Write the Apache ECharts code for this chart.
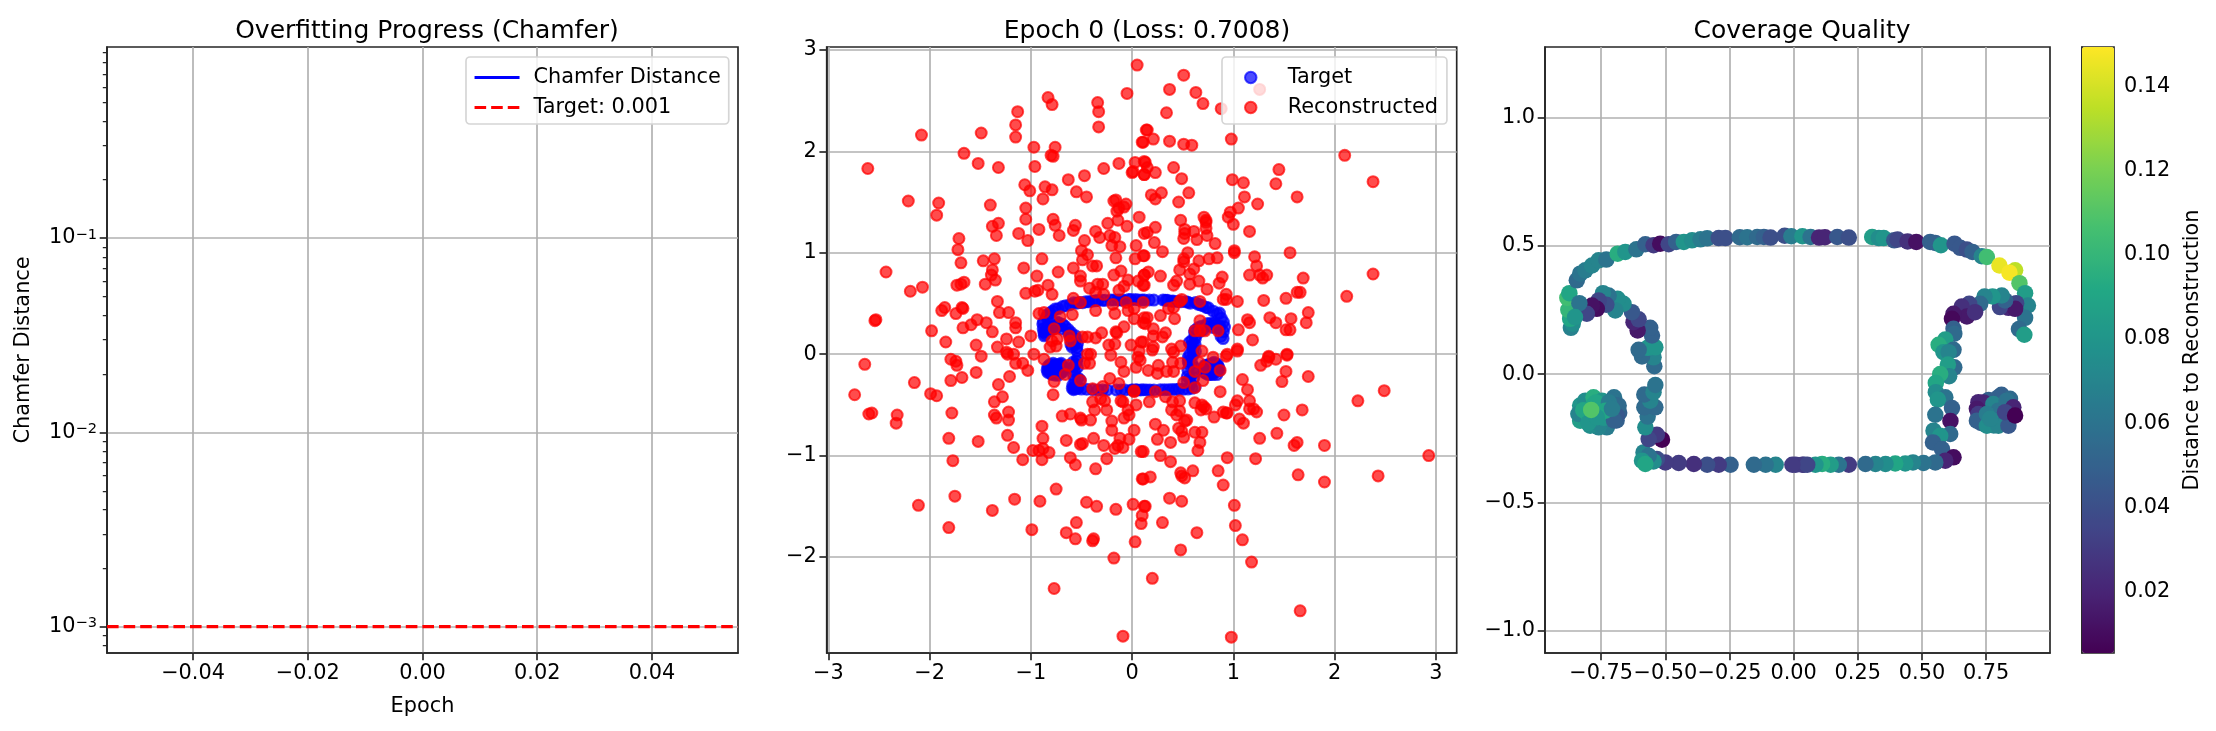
<!DOCTYPE html>
<html>
<head>
<meta charset="utf-8">
<style>html,body{margin:0;padding:0;background:#fff}#c{width:2216px;height:731px}</style>
<script src="https://cdn.jsdelivr.net/npm/echarts@6/dist/echarts.min.js"></script>
</head>
<body>
<div id="c"></div>
<script>
// ---- data ----
const lossTicksY = [0.001, 0.01, 0.1];
const lossMinorY = [0.0008,0.0009,0.002,0.003,0.004,0.005,0.006,0.007,0.008,0.009,0.02,0.03,0.04,0.05,0.06,0.07,0.08,0.09,0.2,0.3,0.4,0.5,0.6,0.7,0.8,0.9];
const lossTicksX = [-0.04,-0.02,0,0.02,0.04];
const chamferValues = [];
const targetLine = [[-0.055,0.001],[0.055,0.001]];
const midTicks = [-3,-2,-1,0,1,2,3];
const midTicksY = [-2,-1,0,1,2,3];
const covTicksX = [-0.75,-0.5,-0.25,0,0.25,0.5,0.75];
const covTicksY = [-1,-0.5,0,0.5,1];
const cbTicks = [0.02,0.04,0.06,0.08,0.1,0.12,0.14];
const viridis = ['#440154','#482475','#414487','#355f8d','#2a788e','#21918c','#22a884','#44bf70','#7ad151','#bddf26','#fde725'];

// red points, upper-left
const reconA = [[0.05,2.85],[-0.05,2.57],[-0.83,2.53],[-0.79,2.46],[-0.34,2.48],[-0.33,2.39],[-0.33,2.24],[-1.13,2.39],[-1.15,2.26],[-1.15,2.14],[-2.08,2.16],[-1.49,2.18],[0.14,2.21],[0.10,2.09],[-0.97,2.04],[-0.76,2.04],[-0.80,1.96],[-0.78,1.95],[-1.66,1.98],[-1.52,1.88],[-1.32,1.84],[-2.61,1.83],[-0.96,1.85],[-0.28,1.83],[-0.13,1.88],[0.03,1.89],[0.12,1.90],[0,1.79],[0.01,1.80],[0.12,1.77],[-0.47,1.76],[-0.63,1.72],[-1.06,1.67],[-1.01,1.61],[-0.86,1.65],[-0.79,1.62],[-0.55,1.60],[-0.45,1.55],[-0.88,1.53],[-2.21,1.51],[-1.91,1.49],[-1.93,1.37],[-1.40,1.47],[-1.05,1.44],[-1.05,1.33],[-0.16,1.52],[-0.18,1.51],[-0.06,1.48],[-0.13,1.44],[-0.15,1.41],[-0.08,1.45],[0.07,1.35],[-0.14,1.32],[-0.24,1.29],[-0.05,1.26],[-0.78,1.33],[-0.76,1.27],[-0.56,1.27],[-0.58,1.22],[-1.32,1.29],[-1.38,1.26],[-1.34,1.17],[-0.92,1.23],[-1.12,1.19],[-1.03,1.12],[-0.72,1.17],[-0.36,1.21],[-0.32,1.15],[-0.47,1.12],[-0.22,1.17],[-0.17,1.15],[-0.20,1.07],[-0.12,1.06],[0.04,1.07],[0.12,1.19],[-1.71,1.14],[-1.72,1.03],[-0.50,1.02],[-0.44,0.98],[-0.49,0.93],[-0.16,0.95],[0.03,0.94],[0.11,0.97],[-0.89,0.94],[-1.47,0.92],[-1.36,0.94],[-1.69,0.90],[-0.39,0.87],[-0.35,0.87],[-0.58,0.85],[-1.07,0.85],[-0.73,0.81],[-2.43,0.81],[-1.38,0.83],[-1.39,0.78],[-1.35,0.73],[-1.45,0.69],[-0.94,0.77],[-0.11,0.82],[-0.18,0.78],[-0.51,0.77],[-0.51,0.72],[-1.66,0.71],[-1.69,0.69],[-1.73,0.68],[-2.07,0.66],[-2.19,0.62],[-0.83,0.68],[-0.93,0.63],[-0.96,0.62],[-1.05,0.60],[-0.79,0.59],[-0.58,0.55],[-0.42,0.65],[-0.36,0.61],[-0.34,0.69],[-0.29,0.69],[-0.28,0.59],[-0.13,0.63],[-0.08,0.67],[-0.04,0.73],[0.06,0.72],[0.12,0.78],[0.11,0.68],[-1.33,0.52],[-1.85,0.46],[-1.88,0.43],[-1.68,0.46],[-1.67,0.45],[-1.74,0.40],[-2.53,0.34],[-2.54,0.33],[-1.31,0.41],[-1.22,0.41],[-0.92,0.40],[-0.87,0.41],[-1.15,0.31],[-1.15,0.26],[-1.44,0.31],[-1.53,0.34],[-1.59,0.29],[-1.67,0.26],[-1.38,0.22],[-1.98,0.23],[-1.84,0.12],[-1.54,0.09],[-1.33,0.07],[-1.24,0.15],[-1.12,0.12],[-1.0,0.18],[-0.97,0],[-1.24,0.02],[-1.17,0],[-0.71,0.37],[-0.59,0.39],[-0.51,0.51],[-0.36,0.43],[-0.19,0.49],[-0.17,0.40],[-0.06,0.51],[-0.04,0.43],[-0.08,0.27],[-0.16,0.22],[-0.15,0.21],[-0.30,0.21],[-0.36,0.16],[-0.44,0.17],[-0.49,0.17],[-0.77,0.25],[-0.62,0.18],[-0.61,0.13],[-0.74,0.15],[-0.79,0.13],[-0.81,0.07],[-0.75,0.08],[-0.23,0.09],[-0.17,0.10],[-0.01,0.09],[0.09,0.12],[0.07,0.03],[0.02,0.35],[0.11,0.31],[0.02,0.45],[0.12,0.36],[-0.41,0],[-0.44,0]];
// red points, upper-right
const reconB = [[0.51,2.75],[0.37,2.61],[0.63,2.58],[0.70,2.47],[0.88,2.42],[0.34,2.38],[1.26,2.61],[0.15,2.21],[0.21,2.12],[0.11,2.09],[0.37,2.10],[0.51,2.07],[0.59,2.06],[0.98,2.12],[2.10,1.96],[2.38,1.70],[1.45,1.82],[1.42,1.68],[0.99,1.72],[1.10,1.69],[1.63,1.55],[0.13,1.89],[0.15,1.84],[0.12,1.77],[0.23,1.79],[0.41,1.84],[0.49,1.73],[0.29,1.59],[0.19,1.57],[0.23,1.53],[0.56,1.59],[0.46,1.50],[1.11,1.55],[1.24,1.48],[1.05,1.44],[0.97,1.40],[0.95,1.35],[1.0,1.28],[1.16,1.21],[0.48,1.32],[0.71,1.35],[0.73,1.32],[0.73,1.30],[0.23,1.25],[0.15,1.20],[0.52,1.23],[0.52,1.19],[0.51,1.14],[0.61,1.21],[0.64,1.13],[0.74,1.17],[0.73,1.24],[0.82,1.09],[0.22,1.10],[0.30,1.01],[0.12,0.97],[0.55,1.0],[1.01,1.02],[1.01,1.0],[1.56,1.0],[1.21,0.96],[0.84,0.95],[0.76,0.94],[0.66,0.92],[0.51,0.94],[0.51,0.91],[1.23,0.87],[0.47,0.83],[0.61,0.84],[1.16,0.78],[1.26,0.78],[1.29,0.75],[1.33,0.78],[1.69,0.75],[2.38,0.79],[2.12,0.57],[0.28,0.77],[0.16,0.81],[0.12,0.78],[0.57,0.79],[0.44,0.72],[0.41,0.68],[0.57,0.69],[0.66,0.72],[0.89,0.76],[0.86,0.70],[0.74,0.64],[0.93,0.59],[0.90,0.54],[0.93,0.54],[1.04,0.52],[1.30,0.53],[1.52,0.55],[1.63,0.61],[1.66,0.61],[0.12,0.68],[0.47,0.52],[0.49,0.54],[0.67,0.52],[0.36,0.45],[0.41,0.46],[0.11,0.51],[1.74,0.41],[1.36,0.36],[1.14,0.34],[1.16,0.31],[1.42,0.31],[1.57,0.35],[1.72,0.31],[1.52,0.24],[1.56,0.24],[1.05,0.24],[1.19,0.14],[1.04,0.05],[1.35,-0.02],[1.53,0],[0.85,0.23],[0.72,0.23],[0.67,0.33],[0.62,0.23],[0.67,0.23],[0.28,0.38],[0.42,0.35],[0.15,0.36],[0.13,0.30],[0.21,0.25],[0.33,0.21],[0.30,0.17],[0.21,0.18],[0.11,0.12],[0.21,0.07],[0.48,0.08],[0.39,0.05],[0.69,0.03],[0.94,0]];
// red points, lower-left
const reconC = [[-2.64,-0.10],[-2.74,-0.40],[-2.15,-0.28],[-1.99,-0.39],[-1.93,-0.41],[-2.60,-0.59],[-2.57,-0.58],[-2.32,-0.60],[-2.33,-0.68],[-1.79,-0.05],[-1.74,-0.07],[-1.73,-0.11],[-1.49,-0.02],[-1.54,-0.18],[-1.68,-0.23],[-1.79,-0.26],[-1.21,-0.22],[-1.32,-0.30],[-1.28,-0.42],[-1.36,-0.47],[-1.78,-0.58],[-1.36,-0.60],[-1.34,-0.63],[-1.22,-0.57],[-1.22,-0.65],[-1.23,-0.80],[-1.81,-0.83],[-1.52,-0.86],[-1.17,-0.92],[-1.77,-1.05],[-1.08,-1.04],[-0.98,-0.95],[-0.89,-1.04],[-0.88,-0.83],[-0.89,-0.71],[-0.88,-0.93],[-0.92,-0.95],[-0.82,-0.97],[-0.69,-0.61],[-0.61,-0.59],[-0.51,-0.63],[-0.50,-0.65],[-0.41,-0.65],[-0.65,-0.85],[-0.51,-0.89],[-0.49,-0.88],[-0.38,-0.83],[-0.28,-0.90],[-0.61,-1.02],[-0.56,-1.09],[-0.36,-1.13],[-0.25,-1.03],[-0.17,-0.93],[-0.12,-0.83],[-0.09,-0.92],[-0.14,-0.90],[-0.03,-0.84],[0.02,-0.75],[-0.20,-0.66],[-0.20,-0.75],[-0.08,-0.63],[-0.03,-0.60],[-0.04,-0.55],[0.04,-0.50],[-0.25,-0.55],[-0.37,-0.55],[-0.39,-0.47],[-0.31,-0.44],[-0.27,-0.46],[-0.11,-0.46],[-0.09,-0.47],[0.02,-0.37],[0.09,-0.96],[0.10,-1.23],[-1.75,-1.40],[-2.11,-1.49],[-1.81,-1.71],[-1.38,-1.54],[-1.16,-1.43],[-0.91,-1.45],[-0.75,-1.33],[-0.99,-1.73],[-0.65,-1.76],[-0.56,-1.82],[-0.38,-1.82],[-0.39,-1.84],[-0.45,-1.46],[-0.35,-1.50],[-0.55,-1.66],[-0.16,-1.53],[0.01,-1.48],[0.12,-1.50],[0.09,-1.67],[0.03,-1.85],[-0.18,-2.01],[-0.77,-2.31],[-0.09,-2.78],[-1.08,-0.09],[-1.03,-0.16],[-1.15,-0.09],[-1.23,0],[-0.87,-0.05],[-0.77,-0.27],[-0.78,-0.40],[-0.66,-0.20],[-0.63,-0.11],[-0.51,-0.26],[-0.47,-0.09],[-0.42,-0.09],[-0.39,-0.34],[-0.29,-0.32],[-0.22,-0.24],[-0.13,-0.29],[0.02,-0.36],[-0.08,-0.17],[-0.11,-0.08],[0.04,-0.13],[-0.21,-0.01],[0.06,-0.03]];
// red points, lower-right
const reconD = [[1.35,-0.03],[1.33,-0.07],[1.42,-0.05],[1.27,-0.11],[1.53,-0.01],[1.52,-0.17],[1.48,-0.27],[1.74,-0.22],[1.09,-0.25],[1.14,-0.35],[0.87,-0.37],[2.23,-0.46],[2.49,-0.36],[1.04,-0.46],[1.02,-0.50],[1.16,-0.46],[1.16,-0.54],[1.20,-0.54],[1.23,-0.57],[1.68,-0.55],[1.50,-0.60],[0.90,-0.57],[0.93,-0.58],[0.94,-0.58],[0.81,-0.62],[1.06,-0.64],[1.10,-0.68],[1.43,-0.78],[1.26,-0.83],[1.63,-0.87],[1.60,-0.90],[1.90,-0.90],[2.93,-1.00],[0.94,-1.02],[1.22,-1.03],[1.64,-1.19],[1.90,-1.26],[2.43,-1.20],[0.85,-1.15],[0.90,-1.29],[1.01,-1.49],[1.02,-1.69],[1.09,-1.83],[1.18,-2.05],[1.66,-2.53],[0.98,-2.79],[0.20,-2.21],[0.48,-1.93],[0.64,-1.76],[0.30,-1.66],[0.37,-1.42],[0.49,-1.45],[0.13,-1.50],[0.10,-1.59],[0.60,-1.15],[0.48,-1.17],[0.49,-1.20],[0.52,-1.22],[0.18,-1.21],[0.11,-1.23],[0.38,-1.06],[0.28,-1.00],[0.11,-0.96],[0.65,-0.95],[0.67,-0.87],[0.69,-0.77],[0.62,-0.77],[0.51,-0.82],[0.38,-0.87],[0.25,-0.84],[0.31,-0.75],[0.23,-0.69],[0.46,-0.73],[0.49,-0.76],[0.52,-0.66],[0.54,-0.65],[0.44,-0.60],[0.47,-0.56],[0.39,-0.55],[0.40,-0.47],[0.47,-0.46],[0.33,-0.42],[0.17,-0.47],[0.62,-0.48],[0.69,-0.50],[0.71,-0.52],[0.68,-0.55],[0.73,-0.54],[0.23,-0.37],[0.51,-0.28],[0.62,-0.33],[0.70,-0.26],[0.62,-0.17],[0.87,-0.16],[0.72,-0.13],[0.66,-0.08],[0.80,-0.03],[0.93,-0.02],[1.04,0.03],[0.48,-0.09],[0.40,-0.08],[0.41,-0.17],[0.34,-0.17],[0.26,-0.11],[0.25,-0.19],[0.16,-0.16],[0.08,-0.06],[0.41,0.02],[0.20,0.04]];

// target shape with distance: x, y, distance
const topEdge = [[-0.868,0.181,0.068],[-0.861,0.197,0.075],[-0.871,0.216,0.09],[-0.878,0.251,0.10],[-0.882,0.298,0.105],[-0.874,0.316,0.09],[-0.845,0.366,0.055],[-0.832,0.392,0.06],[-0.812,0.405,0.065],[-0.786,0.424,0.07],[-0.760,0.444,0.07],[-0.730,0.447,0.06],[-0.686,0.470,0.095],[-0.656,0.477,0.08],[-0.613,0.487,0.06],[-0.578,0.507,0.05],[-0.546,0.503,0.03],[-0.520,0.509,0.01],[-0.487,0.507,0.035],[-0.458,0.516,0.05],[-0.428,0.516,0.08],[-0.396,0.522,0.075],[-0.363,0.526,0.065],[-0.337,0.530,0.06],[-0.292,0.531,0.04],[-0.266,0.531,0.04],[-0.210,0.534,0.055],[-0.181,0.534,0.06],[-0.142,0.535,0.055],[-0.116,0.535,0.05],[-0.090,0.533,0.04],[-0.035,0.540,0.04],[-0.009,0.538,0.065],[0.034,0.538,0.08],[0.066,0.535,0.06],[0.099,0.533,0.02],[0.122,0.534,0.02],[0.170,0.535,0.045],[0.215,0.533,0.04],[0.306,0.535,0.085],[0.332,0.531,0.075],[0.351,0.531,0.08],[0.392,0.522,0.045],[0.405,0.525,0.035],[0.444,0.518,0.025],[0.478,0.516,0.012],[0.532,0.516,0.05],[0.552,0.512,0.05],[0.574,0.503,0.08],[0.627,0.509,0.045],[0.649,0.493,0.045],[0.675,0.486,0.04],[0.697,0.477,0.05],[0.733,0.460,0.07],[0.753,0.457,0.105],[0.802,0.424,0.145],[0.863,0.405,0.135],[0.841,0.396,0.148],[0.880,0.355,0.11],[0.902,0.316,0.085],[0.913,0.268,0.07],[0.902,0.220,0.06],[0.878,0.176,0.055],[0.899,0.154,0.085]];
const rightEdge = [[0.867,0.277,0.035],[0.837,0.259,0.02],[0.863,0.255,0.015],[0.804,0.262,0.035],[0.824,0.288,0.05],[0.811,0.307,0.07],[0.775,0.303,0.08],[0.744,0.303,0.07],[0.727,0.275,0.055],[0.684,0.275,0.035],[0.655,0.264,0.025],[0.675,0.225,0.015],[0.707,0.242,0.025],[0.623,0.236,0.015],[0.617,0.216,0.008],[0.623,0.177,0.05],[0.626,0.158,0.055],[0.591,0.135,0.085],[0.565,0.115,0.095],[0.623,0.095,0.055],[0.584,0.086,0.08],[0.604,0.086,0.07],[0.626,0.027,0.055],[0.601,0.038,0.085],[0.606,-0.008,0.07],[0.571,0.001,0.095],[0.554,-0.034,0.09],[0.554,-0.070,0.075],[0.591,-0.090,0.06],[0.562,-0.099,0.08],[0.617,-0.132,0.05],[0.552,-0.158,0.06],[0.611,-0.182,0.012],[0.610,-0.233,0.055],[0.545,-0.220,0.07],[0.571,-0.240,0.08],[0.543,-0.266,0.05],[0.578,-0.292,0.05],[0.623,-0.324,0.01],[0.591,-0.337,0.02]];
const bottomEdge = [[0.552,-0.344,0.055],[0.506,-0.346,0.06],[0.465,-0.344,0.07],[0.435,-0.348,0.08],[0.396,-0.348,0.09],[0.358,-0.350,0.075],[0.319,-0.350,0.07],[0.280,-0.350,0.055],[0.215,-0.353,0.03],[0.176,-0.353,0.06],[0.144,-0.353,0.085],[0.111,-0.350,0.095],[0.085,-0.353,0.08],[0.040,-0.353,0.035],[0.008,-0.353,0.03],[0.034,-0.353,0.03],[0.053,-0.353,0.035],[-0.005,-0.353,0.03],[-0.070,-0.353,0.07],[-0.109,-0.353,0.06],[-0.155,-0.353,0.055],[-0.246,-0.353,0.05],[-0.292,-0.353,0.03],[-0.337,-0.353,0.04],[-0.389,-0.350,0.025],[-0.448,-0.346,0.03],[-0.500,-0.344,0.03],[-0.533,-0.331,0.04],[-0.572,-0.337,0.085],[-0.546,-0.340,0.075],[-0.585,-0.305,0.07],[-0.565,-0.318,0.06],[-0.591,-0.337,0.08],[-0.578,-0.350,0.09]];
const leftEdge = [[-0.513,-0.255,0.005],[-0.533,-0.236,0.03],[-0.565,-0.253,0.035],[-0.578,-0.207,0.075],[-0.569,-0.165,0.06],[-0.539,-0.129,0.055],[-0.582,-0.129,0.055],[-0.559,-0.103,0.07],[-0.582,-0.079,0.055],[-0.546,-0.070,0.07],[-0.539,-0.042,0.06],[-0.543,0.031,0.055],[-0.546,0.066,0.07],[-0.591,0.069,0.055],[-0.569,0.103,0.08],[-0.539,0.105,0.08],[-0.604,0.095,0.055],[-0.552,0.151,0.05],[-0.559,0.181,0.05],[-0.608,0.171,0.015],[-0.624,0.203,0.02],[-0.604,0.214,0.035],[-0.630,0.242,0.045],[-0.663,0.275,0.075],[-0.686,0.294,0.075],[-0.695,0.249,0.07],[-0.721,0.307,0.06],[-0.743,0.316,0.07],[-0.730,0.271,0.04],[-0.760,0.288,0.035],[-0.767,0.255,0.01],[-0.786,0.268,0.012],[-0.806,0.236,0.035],[-0.835,0.277,0.06],[-0.852,0.223,0.08]];
const blobLeft = [[-0.68,-0.15,0.05],[-0.69,-0.18,0.05],[-0.70,-0.09,0.06],[-0.812,-0.142,0.07],[-0.832,-0.122,0.08],[-0.812,-0.103,0.075],[-0.780,-0.090,0.095],[-0.747,-0.103,0.08],[-0.708,-0.103,0.06],[-0.682,-0.122,0.055],[-0.689,-0.161,0.045],[-0.728,-0.181,0.06],[-0.728,-0.207,0.065],[-0.760,-0.207,0.07],[-0.793,-0.201,0.075],[-0.819,-0.171,0.095],[-0.832,-0.181,0.085],[-0.839,-0.155,0.07],[-0.78,-0.12,0.09],[-0.75,-0.13,0.085],[-0.72,-0.15,0.06],[-0.80,-0.16,0.09],[-0.76,-0.19,0.07],[-0.74,-0.17,0.08],[-0.70,-0.18,0.05],[-0.70,-0.12,0.055],[-0.82,-0.14,0.09],[-0.77,-0.11,0.09],[-0.72,-0.11,0.065],[-0.80,-0.19,0.08],[-0.734,-0.142,0.09],[-0.767,-0.168,0.08],[-0.708,-0.135,0.065],[-0.789,-0.139,0.11]];
const blobRight = [[0.80,-0.15,0.06],[0.83,-0.11,0.05],[0.78,-0.17,0.06],[0.76,-0.10,0.05],[0.73,-0.19,0.05],[0.78,-0.14,0.06],[0.80,-0.12,0.065],[0.76,-0.13,0.03],[0.74,-0.14,0.025],[0.76,-0.17,0.06],[0.80,-0.17,0.06],[0.83,-0.17,0.045],[0.85,-0.15,0.03],[0.82,-0.12,0.05],[0.74,-0.17,0.04],[0.74,-0.11,0.02],[0.78,-0.20,0.07],[0.81,-0.08,0.05],[0.84,-0.12,0.05],[0.720,-0.109,0.02],[0.714,-0.135,0.015],[0.720,-0.155,0.03],[0.714,-0.181,0.05],[0.753,-0.201,0.075],[0.798,-0.201,0.07],[0.837,-0.201,0.045],[0.843,-0.096,0.055],[0.798,-0.090,0.05],[0.778,-0.116,0.07],[0.798,-0.142,0.06],[0.753,-0.155,0.065],[0.766,-0.174,0.07],[0.830,-0.103,0.06],[0.856,-0.129,0.02],[0.824,-0.148,0.035],[0.863,-0.161,0.005]];

const targetPoints = [].concat(topEdge, rightEdge, bottomEdge, leftEdge, blobLeft, blobRight);
const reconPoints = [].concat(reconA, reconB, reconC, reconD);

// ---- styles ----
const FONT = '"DejaVu Sans"';
const FS = 20.83;
const TS = 25;
const LW = 1.67;
const AX = '#262626', GRID = '#b0b0b0';
const minus = s => String(s).replace('-', '\u2212');
const lineStyle = {color: AX, width: LW};
const split = {show: true, showMinLine: true, showMaxLine: true, lineStyle: {color: GRID, width: LW}};
const label = f => ({show: true, color: '#000', fontFamily: FONT, fontSize: FS, margin: 10, formatter: f, hideOverlap: false});
const tick = (vals, len) => ({show: true, length: len || 7.3, lineStyle: {color: AX, width: LW}, customValues: vals});
const box = (left, width) => ({left, width, top: 47, height: 606, show: true, borderColor: AX, borderWidth: LW, backgroundColor: '#fff', containLabel: false});

function valAxis(extra, vals, fmt) {
  return Object.assign({
    type: 'value', scale: false,
    axisLine: {show: true, onZero: false, lineStyle},
    axisTick: tick(vals),
    axisLabel: Object.assign(label(fmt), {customValues: vals}),
    splitLine: split
  }, extra);
}
const f2 = v => minus(Number(v).toFixed(2));
const f1 = v => minus(Number(v).toFixed(1));
const f0 = v => minus(Math.round(v));
const nameText = {color: '#000', fontFamily: FONT, fontSize: FS};
const titleText = {fontFamily: FONT, fontSize: TS, fontWeight: 'normal', color: '#000'};
const legendBase = {orient: 'vertical', selectedMode: false, itemGap: 9,
  backgroundColor: 'rgba(255,255,255,0.8)', borderColor: '#d5d5d5', borderWidth: 1.67, borderRadius: 4};

const option = {
  animation: false,
  backgroundColor: '#fff',
  title: [
    {text: 'Overfitting Progress (Chamfer)', left: 422, top: 14, textAlign: 'center', textStyle: titleText},
    {text: 'Epoch 0 (Loss: 0.7008)', left: 1142, top: 14, textAlign: 'center', textStyle: titleText},
    {text: 'Coverage Quality', left: 1797, top: 14, textAlign: 'center', textStyle: titleText}
  ],
  grid: [box(107, 631), box(826.7, 630), box(1545, 505), box(2082, 32)],
  legend: [
    Object.assign({}, legendBase, {left: 466, top: 57, data: ['Chamfer Distance', 'Target: 0.001'], padding: [10, 8, 6, 7], itemWidth: 45, itemHeight: 14,
      itemStyle: {opacity: 0}, lineStyle: {width: 3.1}, textStyle: {fontFamily: FONT, fontSize: FS, color: '#000', padding: [0, 0, 0, 9]}}),
    Object.assign({}, legendBase, {left: 1222, top: 57, data: ['Target', 'Reconstructed'], padding: [10, 9, 6, 22], itemWidth: 42, itemHeight: 11.5,
      textStyle: {fontFamily: FONT, fontSize: FS, color: '#000', padding: [0, 0, 0, 11]}})
  ],
  xAxis: [
    valAxis({gridIndex: 0, min: -0.055, max: 0.055, name: 'Epoch', nameLocation: 'middle', nameGap: 43, nameTextStyle: nameText}, lossTicksX, f2),
    valAxis({gridIndex: 1, min: -3.016, max: 3.206}, midTicks, f0),
    valAxis({gridIndex: 2, min: -0.969, max: 0.999}, covTicksX, f2),
    {gridIndex: 3, type: 'value', min: 0, max: 1, show: false}
  ],
  yAxis: [
    {gridIndex: 0, type: 'log', logBase: 10, min: 0.000732, max: 0.962,
     name: 'Chamfer Distance', nameLocation: 'middle', nameGap: 73, nameRotate: 90, nameTextStyle: nameText,
     axisLine: {show: true, onZero: false, lineStyle},
     axisTick: tick(lossTicksY),
     axisLabel: {show: true, customValues: lossTicksY, margin: 10, fontFamily: FONT, color: '#000',
       formatter: v => '{b|10}{s|\u2212' + Math.round(-Math.log10(v)) + '}',
       rich: {b: {fontFamily: FONT, fontSize: FS, color: '#000'}, s: {fontFamily: FONT, fontSize: 14.6, color: '#000', verticalAlign: 'top'}}},
     splitLine: split, minorTick: {show: false}, minorSplitLine: {show: false}},
    {gridIndex: 0, type: 'log', logBase: 10, min: 0.000732, max: 0.962, position: 'left',
     axisLine: {show: false, onZero: false}, axisLabel: {show: false}, splitLine: {show: false},
     axisTick: {show: true, length: 4.2, lineStyle: {color: AX, width: 1.25}, customValues: lossMinorY}},
    valAxis({gridIndex: 1, min: -2.946, max: 3.028}, midTicksY, f0),
    valAxis({gridIndex: 2, min: -1.087, max: 1.276}, covTicksY, f1),
    {gridIndex: 3, type: 'value', min: 0.0053, max: 0.1495, position: 'right',
     name: 'Distance to Reconstruction', nameLocation: 'middle', nameGap: 68, nameRotate: 90, nameTextStyle: nameText,
     axisLine: {show: true, lineStyle}, axisTick: tick(cbTicks),
     axisLabel: Object.assign(label(f2), {customValues: cbTicks}), splitLine: {show: false}}
  ],
  visualMap: {
    type: 'continuous', seriesIndex: 4, dimension: 2, min: 0.0053, max: 0.1495,
    inRange: {color: viridis}, calculable: false, realtime: false, hoverLink: false,
    left: 2082, top: 47, itemWidth: 32, itemHeight: 606, padding: 0, text: null, showLabel: false,
    textStyle: {fontSize: 0}, z: 3
  },
  series: [
    {name: 'Chamfer Distance', type: 'line', xAxisIndex: 0, yAxisIndex: 0, data: chamferValues, showSymbol: false, symbol: 'none', lineStyle: {color: '#0000ff', width: 3.1}, itemStyle: {color: '#0000ff'}},
    {name: 'Target: 0.001', type: 'line', xAxisIndex: 0, yAxisIndex: 0, data: targetLine, showSymbol: false, symbol: 'none', lineStyle: {color: '#ff0000', width: 3.1, type: [11.6, 5]}, itemStyle: {color: '#ff0000'}},
    {name: 'Target', type: 'scatter', xAxisIndex: 1, yAxisIndex: 2, data: targetPoints, symbolSize: 11, itemStyle: {color: '#0000ff', borderColor: '#0000ff', borderWidth: 2, opacity: 0.7}},
    {name: 'Reconstructed', type: 'scatter', xAxisIndex: 1, yAxisIndex: 2, data: reconPoints, symbolSize: 11, itemStyle: {color: '#ff0000', borderColor: '#ff0000', borderWidth: 2, opacity: 0.7}},
    {name: 'Coverage', type: 'scatter', xAxisIndex: 2, yAxisIndex: 3, data: targetPoints, symbolSize: 16.5, itemStyle: {opacity: 1}}
  ]
};
const chart = echarts.init(document.getElementById('c'), null, {renderer: 'canvas', width: 2216, height: 731});
chart.setOption(option);
</script>
</body>
</html>
